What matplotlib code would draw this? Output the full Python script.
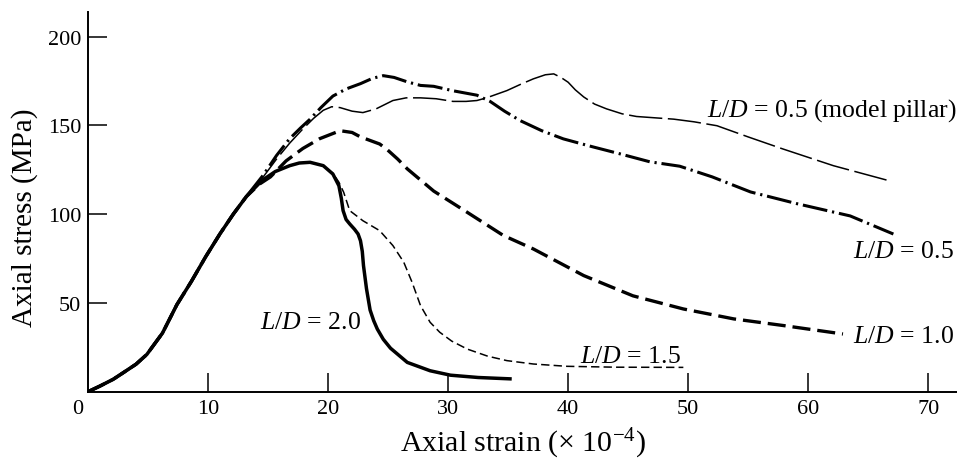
import matplotlib
matplotlib.use("Agg")
import matplotlib.pyplot as plt

plt.rcParams["font.family"] = ["Liberation Serif", "DejaVu Serif"]
plt.rcParams["mathtext.fontset"] = "custom"
plt.rcParams["mathtext.rm"] = "Liberation Serif"
plt.rcParams["mathtext.it"] = "Liberation Serif:italic"
plt.rcParams["lines.scale_dashes"] = False

# elastic branch shared by all specimens (strain x 1e-4, stress MPa)
base_strain = [0, 1.0, 2.1, 3.0, 4.0, 4.9, 6.2, 7.4, 8.6, 9.8, 11.0, 12.1, 13.2]
base_stress = [0, 3.2, 7, 11, 15.5, 21, 33, 49, 62, 76, 89, 100, 110]

# L/D = 2.0
ld20_strain = [14.5, 15.6, 16.8, 17.6, 18.5, 19.6, 20.4, 20.9, 21.1, 21.25, 21.5,
               21.8, 22.2, 22.5, 22.7, 22.85, 22.95, 23.2, 23.5, 23.8, 24.1, 24.6,
               25.2, 26.6, 28.5, 30.2, 32.5, 35.3]
ld20_stress = [119, 124, 127.3, 128.8, 129.2, 127.3, 122.6, 116, 109, 102, 97,
               94.5, 91.5, 88.8, 85, 79, 71, 58, 46, 40, 35.3, 29.5,
               24.5, 16.5, 11.8, 9.3, 8, 7.2]

# L/D = 1.5
ld15_strain = [14.5, 15.6, 16.8, 17.6, 18.5, 19.6, 20.4, 20.9, 21.3, 21.8, 22.9,
               24.3, 25.4, 26.3, 27.0, 27.7, 28.5, 29.3, 30.3, 31.6, 33.3, 34.9,
               37.1, 39.9, 44.0, 49.6]
ld15_stress = [119, 124, 127.3, 128.8, 129.2, 127.3, 123, 118, 112.3, 102, 96.3,
               90.7, 82.3, 73, 61.6, 48.5, 39.1, 33.5, 28.5, 24, 20, 17.5,
               15.6, 14.3, 13.8, 13.7]

# L/D = 1.0
ld10_strain = [14.3, 15.2, 16.5, 17.9, 19.3, 21.0, 22.0, 22.7, 24.3, 24.9, 25.8,
               26.6, 28.8, 31.6, 34.6, 37.1, 41.3, 45.4, 49.6, 53.8, 58.0, 62.9]
ld10_stress = [117, 121, 130, 137, 142.5, 147, 146, 143.5, 139.5, 136.5, 131,
               125.5, 113, 101, 88, 80.4, 65.4, 54, 46.6, 41, 37.2, 32.5]

# L/D = 0.5
ld05_strain = [13.9, 14.6, 15.7, 16.8, 17.7, 18.5, 19.4, 20.4, 21.5, 22.7, 23.7,
               24.6, 25.5, 26.6, 27.7, 28.8, 30.4, 32.4, 33.5, 34.7, 36.0, 37.8,
               39.6, 42.0, 44.3, 46.8, 49.3, 52.0, 55.2, 59.0, 63.5, 67.1]
ld05_stress = [116, 122, 133, 142.5, 148.5, 153.5, 160, 166.5, 170.5, 173.5, 176.5,
               178, 177, 174.5, 172.5, 172, 169.5, 167, 163.5, 158, 152.7, 147,
               142.4, 138, 134, 129.5, 127, 121, 112.5, 106, 99, 88.8]

# L/D = 0.5, model pillar
pillar_strain = [13.9, 14.6, 15.7, 16.8, 17.9, 18.8, 19.6, 20.3, 21.0, 22.0, 22.9,
                 24.0, 25.4, 26.5, 27.7, 29.0, 30.4, 31.5, 32.4, 33.2, 34.9, 36.0,
                 37.1, 38.1, 38.8, 39.4, 40.0, 40.6, 41.3, 42.2, 43.2, 44.5, 45.7,
                 48.8, 50.5, 52.4, 55.0, 57.9, 62.1, 66.7]
pillar_stress = [116, 121, 131, 140, 148, 154, 158.5, 160.5, 160, 158, 157.2,
                 159.3, 164, 165.5, 165.5, 165, 163.5, 163.5, 164, 165.5, 169.6, 173,
                 176.2, 178.5, 179, 177, 174.3, 170, 166, 162, 159.3, 156.5, 155,
                 153.5, 152, 149.8, 143.5, 136.7, 127.3, 118.9]

x_ticks = [10, 20, 30, 40, 50, 60, 70]
y_ticks = [50, 100, 150, 200]

fig = plt.figure(figsize=(9.57, 4.6), dpi=100)
ax = fig.add_axes([0.092, 0.1463, 0.908, 0.826])


def curve(xs, ys, **kw):
    ax.plot(base_strain + xs, base_stress + ys, color="black",
            solid_capstyle="butt", dash_capstyle="butt",
            solid_joinstyle="round", **kw)


curve(pillar_strain, pillar_stress, lw=1.1, linestyle=(0, (24, 4)))
curve(ld05_strain, ld05_stress, lw=2.2, linestyle=(0, (18, 3.5, 1.6, 3.5)))
curve(ld10_strain, ld10_stress, lw=2.4, linestyle=(0, (13, 5)))
curve(ld15_strain, ld15_stress, lw=1.1, linestyle=(0, (6, 3)))
curve(ld20_strain, ld20_stress, lw=2.5, linestyle="-")

text_kw = dict(fontsize=18.5, va="center", ha="left")
ax.text(51.6, 159, r"$L/D$ = 0.5 (model pillar)", **text_kw)
ax.text(63.7, 79.3, r"$L/D$ = 0.5", **text_kw)
ax.text(63.7, 31.4, r"$L/D$ = 1.0", **text_kw)
ax.text(41.0, 20.0, r"$L/D$ = 1.5", **text_kw)
ax.text(14.3, 39.3, r"$L/D$ = 2.0", **text_kw)

ax.set_xlim(0, 72.4)
ax.set_ylim(0, 214)
ax.set_xticks(x_ticks)
ax.set_yticks(y_ticks)
ax.tick_params(direction="in", length=13.5, width=1.1, labelsize=16, pad=5)
ax.annotate("0", xy=(0, 0), xytext=(-7.5, -5), textcoords="offset points",
            ha="center", va="top", fontsize=16)

for side in ("top", "right"):
    ax.spines[side].set_visible(False)
for side in ("left", "bottom"):
    ax.spines[side].set_linewidth(1.4)

ax.set_xlabel(r"Axial strain (× 10$^{-4}$)", fontsize=21.5)
ax.set_ylabel("Axial stress (MPa)", fontsize=21)
ax.xaxis.set_label_coords(0.5, -0.09)
ax.yaxis.set_label_coords(-0.058, 0.461)

fig.savefig("out.png", dpi=100)
